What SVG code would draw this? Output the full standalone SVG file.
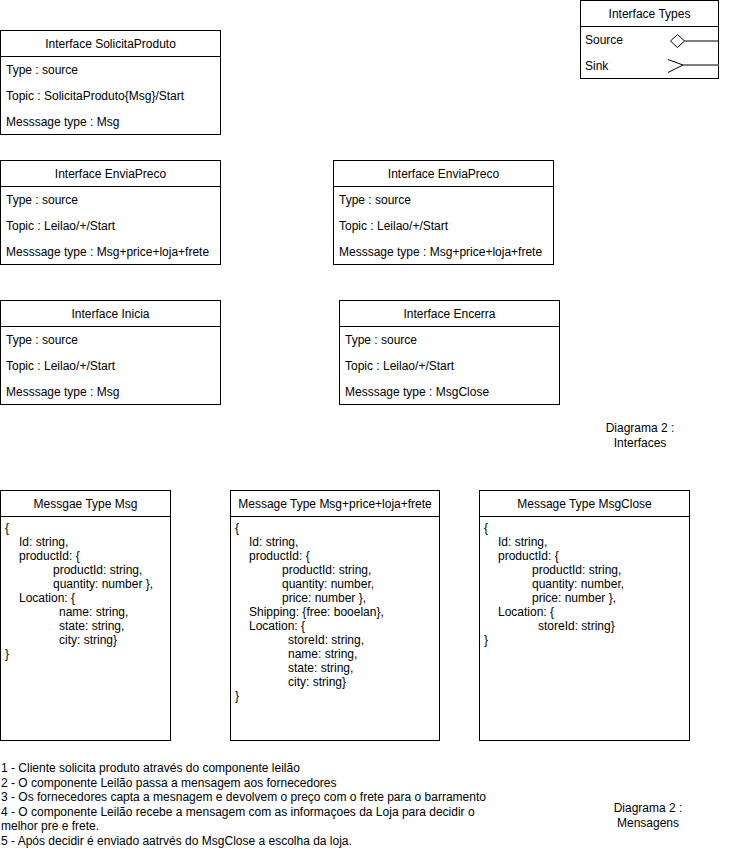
<svg xmlns="http://www.w3.org/2000/svg" width="734" height="849" viewBox="0 0 734 849">
<style>
.b{fill:#fff;stroke:#000;stroke-width:1}
.l{stroke:#000;stroke-width:1;fill:none}
text{font-family:"Liberation Sans",Arial,Helvetica,sans-serif;font-size:12px;fill:#000}
.c{text-anchor:middle}
</style>
<rect width="734" height="849" fill="#fff"/>
<g id="interface-types">
<rect class="b" x="580.5" y="0.5" width="138" height="78"/>
<line class="l" x1="580.5" y1="26.5" x2="718.5" y2="26.5"/>
<text class="c" x="649.5" y="17.5">Interface Types</text>
<text x="585" y="44">Source</text>
<text x="585" y="70">Sink</text>
</g>
<g id="connectors">
<path class="l" d="M670.5 41 L677.5 34.5 L684.5 41 L677.5 47.5 Z" fill="#fff"/>
<line class="l" x1="684.5" y1="41" x2="718.5" y2="41"/>
<line x1="683" y1="65" x2="718.5" y2="65" stroke="#808080" stroke-width="2"/>
<polyline class="l" points="668,59.5 683,65 668,72.5"/>
</g>
<g id="interface-solicitaproduto">
<rect class="b" x="0.5" y="30.5" width="220" height="104"/>
<line class="l" x1="0.5" y1="56.5" x2="220.5" y2="56.5"/>
<text class="c" x="110.5" y="48">Interface SolicitaProduto</text>
<text x="6" y="74">Type : source</text>
<text x="6" y="100">Topic : SolicitaProduto{Msg}/Start</text>
<text x="6" y="126">Messsage type : Msg</text>
</g>
<g id="interface-enviapreco-1">
<rect class="b" x="0.5" y="160.5" width="220" height="104"/>
<line class="l" x1="0.5" y1="186.5" x2="220.5" y2="186.5"/>
<text class="c" x="110.5" y="178">Interface EnviaPreco</text>
<text x="6" y="204">Type : source</text>
<text x="6" y="230">Topic : Leilao/+/Start</text>
<text x="6" y="256">Messsage type : Msg+price+loja+frete</text>
</g>
<g id="interface-enviapreco-2">
<rect class="b" x="333.5" y="160.5" width="220" height="104"/>
<line class="l" x1="333.5" y1="186.5" x2="553.5" y2="186.5"/>
<text class="c" x="443.5" y="178">Interface EnviaPreco</text>
<text x="339" y="204">Type : source</text>
<text x="339" y="230">Topic : Leilao/+/Start</text>
<text x="339" y="256">Messsage type : Msg+price+loja+frete</text>
</g>
<g id="interface-inicia">
<rect class="b" x="0.5" y="300.5" width="220" height="104"/>
<line class="l" x1="0.5" y1="326.5" x2="220.5" y2="326.5"/>
<text class="c" x="110.5" y="318">Interface Inicia</text>
<text x="6" y="344">Type : source</text>
<text x="6" y="370">Topic : Leilao/+/Start</text>
<text x="6" y="396">Messsage type : Msg</text>
</g>
<g id="interface-encerra">
<rect class="b" x="339.5" y="300.5" width="220" height="104"/>
<line class="l" x1="339.5" y1="326.5" x2="559.5" y2="326.5"/>
<text class="c" x="449.5" y="318">Interface Encerra</text>
<text x="345" y="344">Type : source</text>
<text x="345" y="370">Topic : Leilao/+/Start</text>
<text x="345" y="396">Messsage type : MsgClose</text>
</g>
<g id="label-interfaces">
<text class="c" x="640" y="432">Diagrama 2 :</text>
<text class="c" x="640" y="447">Interfaces</text>
</g>
<g id="msg-type-msg">
<rect class="b" x="0.5" y="490.5" width="170" height="250"/>
<line class="l" x1="0.5" y1="516.5" x2="170.5" y2="516.5"/>
<text class="c" x="85.5" y="508">Messgae Type Msg</text>
<text x="5" y="532">{</text>
<text x="19" y="546">Id: string,</text>
<text x="19" y="560">productId: {</text>
<text x="53" y="574">productId: string,</text>
<text x="53" y="588">quantity: number },</text>
<text x="19" y="602">Location: {</text>
<text x="59" y="616">name: string,</text>
<text x="59" y="630">state: string,</text>
<text x="59" y="644">city: string}</text>
<text x="5" y="658">}</text>
</g>
<g id="msg-type-price">
<rect class="b" x="230.5" y="490.5" width="209" height="250"/>
<line class="l" x1="230.5" y1="516.5" x2="439.5" y2="516.5"/>
<text class="c" x="335" y="508">Message Type Msg+price+loja+frete</text>
<text x="235" y="532">{</text>
<text x="249" y="546">Id: string,</text>
<text x="249" y="560">productId: {</text>
<text x="282" y="574">productId: string,</text>
<text x="282" y="588">quantity: number,</text>
<text x="282" y="602">price: number },</text>
<text x="249" y="616">Shipping: {free: booelan},</text>
<text x="249" y="630">Location: {</text>
<text x="288" y="644">storeId: string,</text>
<text x="288" y="658">name: string,</text>
<text x="288" y="672">state: string,</text>
<text x="288" y="686">city: string}</text>
<text x="235" y="700">}</text>
</g>
<g id="msg-type-msgclose">
<rect class="b" x="479.5" y="490.5" width="210" height="250"/>
<line class="l" x1="479.5" y1="516.5" x2="689.5" y2="516.5"/>
<text class="c" x="584.5" y="508">Message Type MsgClose</text>
<text x="484" y="532">{</text>
<text x="498" y="546">Id: string,</text>
<text x="498" y="560">productId: {</text>
<text x="532" y="574">productId: string,</text>
<text x="532" y="588">quantity: number,</text>
<text x="532" y="602">price: number },</text>
<text x="498" y="616">Location: {</text>
<text x="538" y="630">storeId: string}</text>
<text x="484" y="644">}</text>
</g>
<g id="notes">
<text x="1" y="772">1 - Cliente solicita produto através do componente leilão</text>
<text x="1" y="786.6">2 - O componente Leilão passa a mensagem aos fornecedores</text>
<text x="1" y="801.2">3 - Os fornecedores capta a mesnagem e devolvem o preço com o frete para o barramento</text>
<text x="1" y="815.8">4 - O componente Leilão recebe a mensagem com as informaçoes da Loja para decidir o</text>
<text x="1" y="830.4">melhor pre e frete.</text>
<text x="1" y="845">5 - Após decidir é enviado aatrvés do MsgClose a escolha da loja.</text>
</g>
<g id="label-mensagens">
<text class="c" x="648" y="812">Diagrama 2 :</text>
<text class="c" x="648" y="827">Mensagens</text>
</g>
</svg>
